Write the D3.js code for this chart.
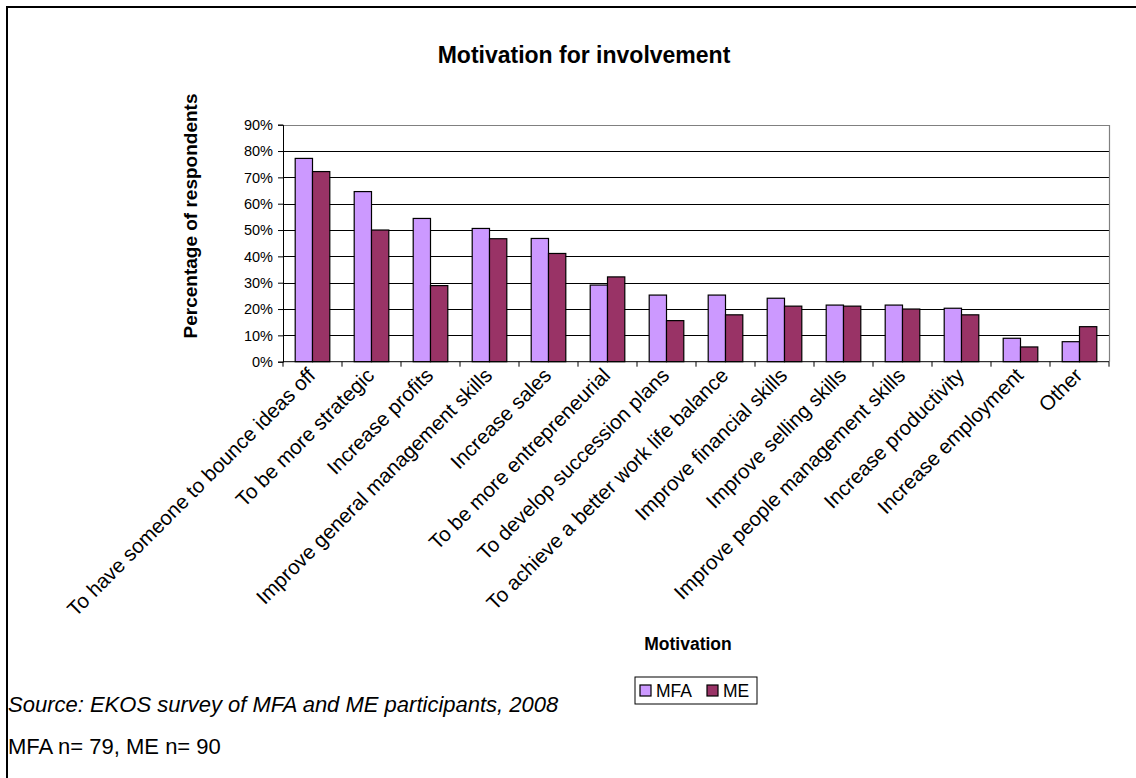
<!DOCTYPE html>
<html>
<head>
<meta charset="utf-8">
<script src="https://cdn.jsdelivr.net/npm/d3@7"></script>
<style>
  html, body { margin: 0; padding: 0; background: #fff; }
  svg { display: block; font-family: "Liberation Sans", Arial, sans-serif; }
</style>
</head>
<body>
<svg id="chart" width="1136" height="778"></svg>
<script>
// Survey responses: share of respondents citing each motivation
const categories = [
  "To have someone to bounce ideas off",
  "To be more strategic",
  "Increase profits",
  "Improve general management skills",
  "Increase sales",
  "To be more entrepreneurial",
  "To develop succession plans",
  "To achieve a better work life balance",
  "Improve financial skills",
  "Improve selling skills",
  "Improve people management skills",
  "Increase productivity",
  "Increase employment",
  "Other"
];
const seriesNames = ["MFA", "ME"];
const mfaValues = [77.2, 64.6, 54.4, 50.6, 46.8, 29.1, 25.3, 25.3, 24.1, 21.5, 21.5, 20.3, 8.9, 7.6];
const meValues  = [72.2, 50.0, 28.9, 46.7, 41.1, 32.2, 15.6, 17.8, 21.1, 21.1, 20.0, 17.8, 5.6, 13.3];
const yTicks = [0, 10, 20, 30, 40, 50, 60, 70, 80, 90];
const seriesColors = ["#CC99FF", "#993366"];

const svg = d3.select("#chart");

// Outer frame
svg.append("rect")
  .attr("x", 7).attr("y", 7)
  .attr("width", 1140).attr("height", 800)
  .attr("fill", "#fff").attr("stroke", "#000").attr("stroke-width", 2);

const plot = { left: 283, right: 1109, top: 124.7, bottom: 361.7 };

const x0 = d3.scaleBand().domain(categories).range([plot.left, plot.right]).paddingInner(0).paddingOuter(0);
const x1 = d3.scaleBand().domain(seriesNames).range([0, x0.bandwidth()]).paddingInner(0).paddingOuter(0.705);
const y = d3.scaleLinear().domain([0, 90]).range([plot.bottom, plot.top]);

// Title
svg.append("text")
  .attr("x", 584).attr("y", 63)
  .attr("text-anchor", "middle")
  .attr("font-weight", "bold").attr("font-size", 23)
  .text("Motivation for involvement");

// Gridlines
svg.append("g")
  .selectAll("line")
  .data(yTicks.filter(t => t > 0 && t < 90))
  .join("line")
  .attr("x1", plot.left).attr("x2", plot.right)
  .attr("y1", d => Math.round(y(d)) + 0.5).attr("y2", d => Math.round(y(d)) + 0.5)
  .attr("stroke", "#000").attr("stroke-width", 1);

// Plot area border (top and right)
svg.append("path")
  .attr("d", `M${plot.left},${Math.round(plot.top) + 0.5}H${Math.round(plot.right) + 0.5}V${plot.bottom}`)
  .attr("fill", "none").attr("stroke", "#808080").attr("stroke-width", 1.2);

// Bars
const rows = categories.map((c, i) => ({ cat: c, vals: [mfaValues[i], meValues[i]] }));
const groups = svg.append("g").selectAll("g")
  .data(rows)
  .join("g")
  .attr("transform", d => `translate(${x0(d.cat)},0)`);
groups.selectAll("rect")
  .data(d => d.vals.map((v, j) => ({ key: seriesNames[j], v, j })))
  .join("rect")
  .attr("x", d => x1(d.key))
  .attr("y", d => y(d.v))
  .attr("width", x1.bandwidth())
  .attr("height", d => y(0) - y(d.v))
  .attr("fill", d => seriesColors[d.j])
  .attr("stroke", "#000").attr("stroke-width", 1.2);

// Y axis
const yAxis = d3.axisLeft(y).tickValues(yTicks).tickFormat(d => d + "%").tickSize(5).tickPadding(5);
const yg = svg.append("g").attr("transform", `translate(${plot.left},0)`).call(yAxis);
yg.select(".domain").attr("stroke", "#000");
yg.selectAll(".tick line").attr("stroke", "#000");
yg.selectAll("text").attr("font-size", 14.5).attr("fill", "#000")
  .attr("font-family", "Liberation Sans, Arial, sans-serif");

// X axis: ticks at category boundaries
const xg = svg.append("g").attr("transform", `translate(0,${plot.bottom})`);
xg.append("line").attr("x1", plot.left).attr("x2", plot.right).attr("stroke", "#000");
xg.selectAll("line.tk")
  .data(categories.map(c => x0(c)).concat([plot.right]))
  .join("line").attr("class", "tk")
  .attr("x1", d => d).attr("x2", d => d).attr("y1", 0).attr("y2", 5)
  .attr("stroke", "#000");

xg.selectAll("text")
  .data(categories)
  .join("text")
  .attr("transform", c => `translate(${x0(c) + x0.bandwidth() / 2 + 4},15) rotate(-45)`)
  .attr("text-anchor", "end")
  .attr("font-size", 20.5)
  .text(c => c);

// Axis titles
svg.append("text")
  .attr("transform", "translate(197,216) rotate(-90)")
  .attr("text-anchor", "middle")
  .attr("font-weight", "bold").attr("font-size", 19)
  .text("Percentage of respondents");

svg.append("text")
  .attr("x", 688).attr("y", 650)
  .attr("text-anchor", "middle")
  .attr("font-weight", "bold").attr("font-size", 17.5)
  .text("Motivation");

// Legend
const legend = svg.append("g").attr("transform", "translate(635,677)");
legend.append("rect").attr("width", 122).attr("height", 27)
  .attr("fill", "#fff").attr("stroke", "#000").attr("stroke-width", 1);
const items = legend.selectAll("g.item")
  .data(seriesNames)
  .join("g").attr("class", "item")
  .attr("transform", (d, i) => `translate(${5 + i * 67},0)`);
items.append("rect")
  .attr("x", 0).attr("y", 8).attr("width", 11).attr("height", 11)
  .attr("fill", (d, i) => seriesColors[i]).attr("stroke", "#000").attr("stroke-width", 1.2);
items.append("text")
  .attr("x", 16).attr("y", 20)
  .attr("font-size", 17.5)
  .text(d => d);

// Notes
svg.append("text")
  .attr("x", 8).attr("y", 712)
  .attr("font-style", "italic").attr("font-size", 22)
  .text("Source: EKOS survey of MFA and ME participants, 2008");
svg.append("text")
  .attr("x", 8).attr("y", 754)
  .attr("font-size", 22)
  .text("MFA n= 79, ME n= 90");
</script>
</body>
</html>
